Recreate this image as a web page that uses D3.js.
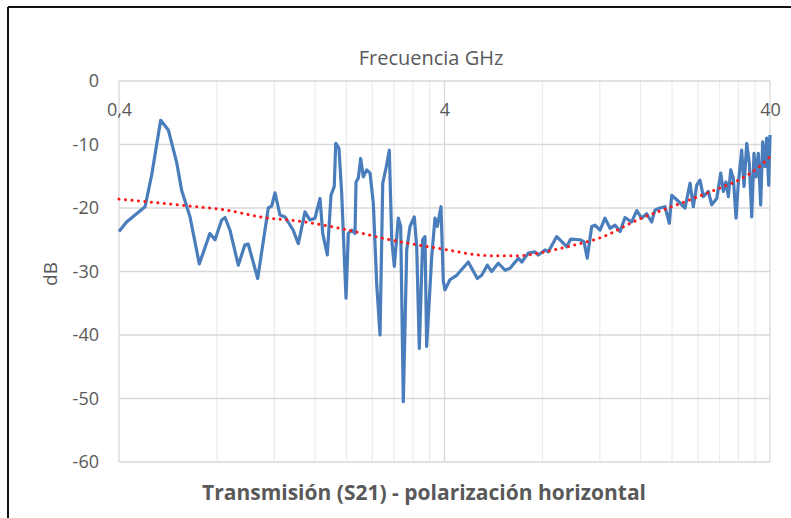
<!DOCTYPE html>
<html>
<head>
<meta charset="utf-8">
<script src="https://cdn.jsdelivr.net/npm/d3@7"></script>
<style>
    body { margin: 0; background: #fff; }
    text { font-family: "Open Sans", sans-serif; }
</style>
</head>
<body>
<svg width="791" height="518"></svg>
<script>
// measured S21, frequency in GHz
var freqGHz = [
    0.4, 0.422, 0.481, 0.504, 0.537, 0.567, 0.602, 0.623, 0.661, 0.706,
    0.761, 0.789, 0.827, 0.847, 0.877, 0.930, 0.975, 0.998, 1.067, 1.150,
    1.178, 1.206, 1.249, 1.294, 1.372, 1.422, 1.491, 1.545, 1.600, 1.658,
    1.690, 1.746, 1.792, 1.834, 1.853, 1.896, 1.933, 1.993, 2.026, 2.075,
    2.124, 2.139, 2.174, 2.211, 2.252, 2.307, 2.362, 2.418, 2.476, 2.535,
    2.584, 2.645, 2.707, 2.754, 2.805, 2.885, 2.934, 2.989, 3.062, 3.134,
    3.230, 3.286, 3.347, 3.428, 3.484, 3.526, 3.654, 3.740, 3.802, 3.902,
    3.966, 4.014, 4.157, 4.360, 4.733, 5.045, 5.204, 5.414, 5.585, 5.852,
    6.139, 6.360, 6.744, 6.908, 7.237, 7.588, 7.768, 8.144, 8.337, 8.849,
    9.496, 9.768, 10.43, 10.73, 10.98, 11.33, 11.60, 12.02, 12.45, 12.90,
    13.37, 13.85, 14.34, 15.04, 15.58, 16.14, 16.72, 17.32, 17.73, 18.37,
    19.03, 19.62, 19.96, 20.68, 21.93, 22.72, 23.25, 23.82, 24.38, 24.96,
    25.86, 26.49, 27.44, 28.23, 28.75, 29.31, 29.79, 30.30, 30.86, 31.46,
    31.97, 32.74, 33.28, 33.93, 34.56, 35.15, 35.72, 36.23, 36.82, 37.45,
    37.98, 38.61, 39.07, 39.63, 40
];
var s21dB = [
    -23.7, -22.2, -19.8, -14.8, -6.2, -7.7, -12.9, -17.2, -21.4, -28.8,
    -24.0, -25.0, -21.9, -21.5, -23.5, -29.0, -25.8, -25.7, -31.1, -20.0,
    -19.7, -17.6, -21.1, -21.4, -23.5, -25.6, -20.6, -21.9, -21.6, -18.5,
    -24.0, -27.4, -18.0, -16.6, -9.8, -10.6, -17.7, -34.2, -24.0, -23.5,
    -24.0, -15.9, -15.3, -12.2, -15.1, -14.0, -14.5, -19.3, -31.9, -40.0,
    -16.1, -13.7, -10.9, -25.0, -29.2, -21.6, -22.9, -50.5, -26.6, -22.9,
    -21.4, -26.1, -42.1, -25.0, -24.5, -41.8, -27.7, -21.6, -22.9, -19.8,
    -31.5, -32.9, -31.3, -30.6, -28.5, -31.1, -30.6, -29.0, -30.0, -28.7,
    -29.8, -29.5, -27.9, -28.5, -27.1, -26.9, -27.4, -26.6, -26.9, -24.5,
    -26.1, -24.9, -25.0, -25.3, -27.9, -22.9, -22.7, -23.5, -21.6, -23.2,
    -22.7, -23.7, -21.5, -22.2, -20.4, -21.6, -20.9, -22.2, -20.3, -20.0,
    -19.8, -22.4, -18.0, -18.7, -20.0, -16.1, -19.8, -16.4, -15.6, -18.2,
    -17.4, -19.5, -18.5, -14.5, -17.4, -15.9, -18.2, -14.0, -15.3, -21.6,
    -16.1, -10.9, -16.6, -9.8, -13.0, -21.4, -11.4, -15.1, -11.4, -19.5,
    -9.6, -13.5, -9.0, -16.4, -8.5
];

// red dotted trend line
var trendFreq = [0.4, 0.661, 0.847, 1.085, 1.491, 1.91, 2.72, 3.875, 5.52, 6.82,
                 8.14, 9.72, 12.02, 15.95, 21.2, 28.2, 32.35, 37.45, 40];
var trendDB = [-18.6, -19.7, -20.3, -21.4, -22.2, -23.2, -25.0, -26.4, -27.5, -27.5,
               -26.9, -26.0, -24.7, -21.7, -19.3, -16.8, -15.5, -13.3, -11.9];

var yTicks = [0, -10, -20, -30, -40, -50, -60];
var xTicks = [0.4, 4, 40];
var xTickLabels = ["0,4", "4", "40"];

var svg = d3.select("svg"),
    width = +svg.attr("width"),
    height = +svg.attr("height");

var plotLeft = 119, plotRight = 770, plotTop = 81, plotBottom = 462;

var x = d3.scaleLog().domain([0.4, 40]).range([plotLeft, plotRight]);
var y = d3.scaleLinear().domain([-60, 0]).range([plotBottom, plotTop]);

// frame of the picture
svg.append("line").attr("x1", 8).attr("x2", width).attr("y1", 7).attr("y2", 7)
    .attr("stroke", "#111").attr("stroke-width", 2);
svg.append("line").attr("x1", 8).attr("x2", 8).attr("y1", 7).attr("y2", height)
    .attr("stroke", "#111").attr("stroke-width", 2);

// minor vertical grid (2..9 times each decade start)
var minor = [];
xTicks.slice(0, 2).forEach(function(d) {
    d3.range(2, 10).forEach(function(k) { minor.push(d * k); });
});

svg.append("g").selectAll("line")
    .data(minor)
    .enter().append("line")
    .attr("x1", function(d) { return x(d); })
    .attr("x2", function(d) { return x(d); })
    .attr("y1", plotTop).attr("y2", plotBottom)
    .attr("stroke", "#ececec").attr("stroke-width", 1.2);

svg.append("g").selectAll("line")
    .data(yTicks)
    .enter().append("line")
    .attr("x1", plotLeft).attr("x2", plotRight)
    .attr("y1", function(d) { return y(d); })
    .attr("y2", function(d) { return y(d); })
    .attr("stroke", "#d9d9d9").attr("stroke-width", 1.3);

svg.append("g").selectAll("line")
    .data(xTicks)
    .enter().append("line")
    .attr("x1", function(d) { return x(d); })
    .attr("x2", function(d) { return x(d); })
    .attr("y1", plotTop).attr("y2", plotBottom)
    .attr("stroke", "#d9d9d9").attr("stroke-width", 1.3);

// axes, labels only
var yAxis = svg.append("g")
    .attr("transform", "translate(" + plotLeft + ",0)")
    .call(d3.axisLeft(y).tickValues(yTicks).tickSize(0).tickPadding(20)
        .tickFormat(function(d) { return String(d); }));
yAxis.select(".domain").remove();
yAxis.attr("font-size", 18).attr("font-family", "Open Sans, sans-serif").attr("color", "#595959");

var xAxis = svg.append("g")
    .attr("transform", "translate(0," + plotTop + ")")
    .call(d3.axisBottom(x).tickValues(xTicks).tickSize(0).tickPadding(22)
        .tickFormat(function(d, i) { return xTickLabels[i]; }));
xAxis.select(".domain").remove();
xAxis.attr("font-size", 18).attr("font-family", "Open Sans, sans-serif").attr("color", "#595959");

// series
var points = freqGHz.map(function(f, i) { return [f, s21dB[i]]; });
var trend = trendFreq.map(function(f, i) { return [f, trendDB[i]]; });

var line = d3.line()
    .x(function(d) { return x(d[0]); })
    .y(function(d) { return y(d[1]); });

svg.append("path")
    .datum(points)
    .attr("fill", "none")
    .attr("stroke", "#4a7dbb")
    .attr("stroke-width", 3.2)
    .attr("stroke-linejoin", "round")
    .attr("d", line);

svg.append("path")
    .datum(trend)
    .attr("fill", "none")
    .attr("stroke", "#ff1a1a")
    .attr("stroke-width", 3)
    .attr("stroke-linecap", "round")
    .attr("stroke-dasharray", "0.1 6.4")
    .attr("d", line.curve(d3.curveMonotoneX));

// titles
svg.append("text")
    .attr("x", 431).attr("y", 65)
    .attr("text-anchor", "middle")
    .attr("font-size", 20)
    .attr("fill", "#595959")
    .text("Frecuencia GHz");

svg.append("text")
    .attr("transform", "translate(57,274) rotate(-90)")
    .attr("text-anchor", "middle")
    .attr("font-size", 19)
    .attr("fill", "#595959")
    .text("dB");

svg.append("text")
    .attr("x", 424).attr("y", 500)
    .attr("text-anchor", "middle")
    .attr("font-size", 21)
    .attr("font-weight", "bold")
    .attr("fill", "#595959")
    .text("Transmisión (S21) - polarización horizontal");
</script>
</body>
</html>
